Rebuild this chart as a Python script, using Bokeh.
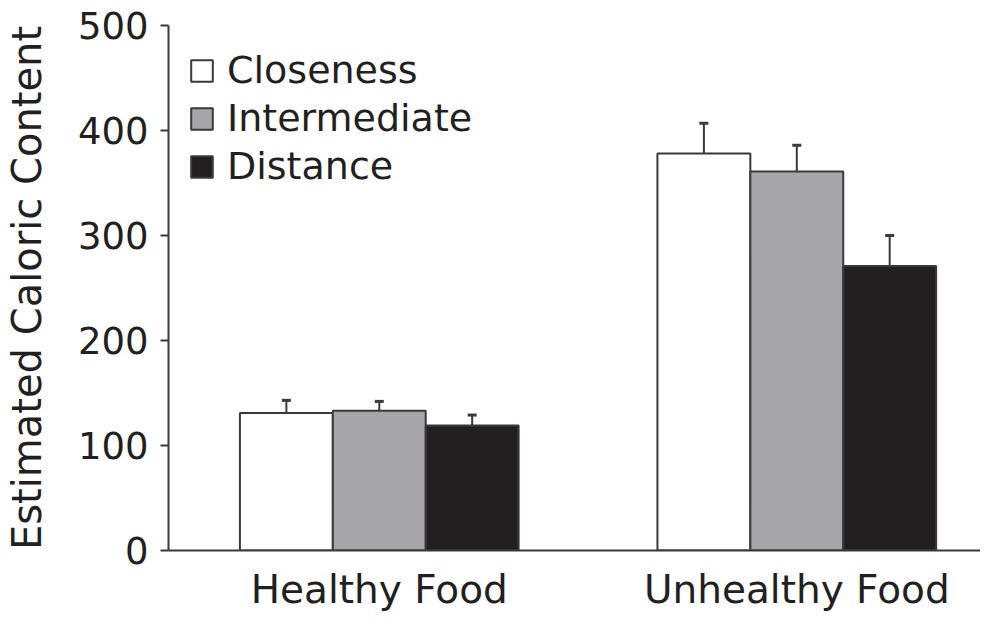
from bokeh.plotting import figure
from bokeh.models import ColumnDataSource, Whisker, TeeHead, FixedTicker, Legend, LegendItem
from bokeh.transform import dodge
from bokeh.embed import file_html
from bokeh.resources import INLINE

categories = ["Healthy Food", "Unhealthy Food"]
conditions = ["Closeness", "Intermediate", "Distance"]
closeness = [131, 378]
intermediate = [133, 361]
distance = [119, 271]
closeness_err = [12, 29]
intermediate_err = [9, 25]
distance_err = [10, 29]
y_ticks = [0, 100, 200, 300, 400, 500]

FONT = "DejaVu Sans"
TXT = "#231f20"
EDGE = "#3a3a3a"
fills = ["#ffffff", "#a6a5aa", "#231f20"]
bar_w = 0.2225
offsets = [-bar_w, 0.0, bar_w]

xs = list(range(len(categories)))

p = figure(width=980, height=614, output_backend="svg", toolbar_location=None,
           x_range=(-0.5048, 1.440), y_range=(0, 500),
           min_border_left=167, min_border_right=0, min_border_top=25, min_border_bottom=61)
p.outline_line_color = None
p.xgrid.visible = False
p.ygrid.visible = False
p.background_fill_color = "white"

series = [closeness, intermediate, distance]
errs = [closeness_err, intermediate_err, distance_err]
items = []
for name, vals, err, fill, off in zip(conditions, series, errs, fills, offsets):
    src = ColumnDataSource(dict(x=xs, top=vals,
                                upper=[v + e for v, e in zip(vals, err)]))
    w = Whisker(base=dodge("x", off, range=p.x_range), lower="top", upper="upper",
                source=src, line_color=EDGE, line_width=2,
                lower_head=None,
                upper_head=TeeHead(size=9, line_color=EDGE, line_width=3))
    p.add_layout(w)
    r = p.vbar(x=dodge("x", off, range=p.x_range), top="top", width=bar_w, bottom=0,
               source=src, fill_color=fill, line_color=EDGE, line_width=2)
    items.append(LegendItem(label=name, renderers=[r]))

legend = Legend(items=items, location=(0, 342), margin=0, padding=20,
                glyph_width=27, glyph_height=27, label_standoff=12, spacing=4,
                label_text_font=FONT, label_text_font_size="38px",
                label_text_color=TXT, border_line_alpha=0, background_fill_alpha=0)
p.add_layout(legend)

p.yaxis.ticker = FixedTicker(ticks=y_ticks)
p.yaxis.axis_label = "Estimated Caloric Content"
p.yaxis.axis_label_text_font = FONT
p.yaxis.axis_label_text_font_size = "40px"
p.yaxis.axis_label_text_font_style = "normal"
p.yaxis.axis_label_text_color = TXT
p.yaxis.axis_label_standoff = 25
p.yaxis.major_label_text_font = FONT
p.yaxis.major_label_text_font_size = "37px"
p.yaxis.major_label_text_color = TXT
p.yaxis.major_label_standoff = 12
p.yaxis.major_tick_out = 8
p.yaxis.major_tick_in = 0
p.yaxis.minor_tick_out = 0
p.yaxis.minor_tick_in = 0
p.yaxis.axis_line_color = EDGE
p.yaxis.axis_line_width = 2
p.yaxis.major_tick_line_color = EDGE
p.yaxis.major_tick_line_width = 2

p.xaxis.ticker = FixedTicker(ticks=xs)
p.xaxis.major_label_overrides = {i: c for i, c in zip(xs, categories)}
p.xaxis.major_label_text_font = FONT
p.xaxis.major_label_text_font_size = "39px"
p.xaxis.major_label_text_color = TXT
p.xaxis.major_label_standoff = 16
p.xaxis.major_tick_out = 0
p.xaxis.major_tick_in = 0
p.xaxis.minor_tick_out = 0
p.xaxis.minor_tick_in = 0
p.xaxis.axis_line_color = EDGE
p.xaxis.axis_line_width = 2

open("out.html", "w").write(file_html(p, INLINE))
